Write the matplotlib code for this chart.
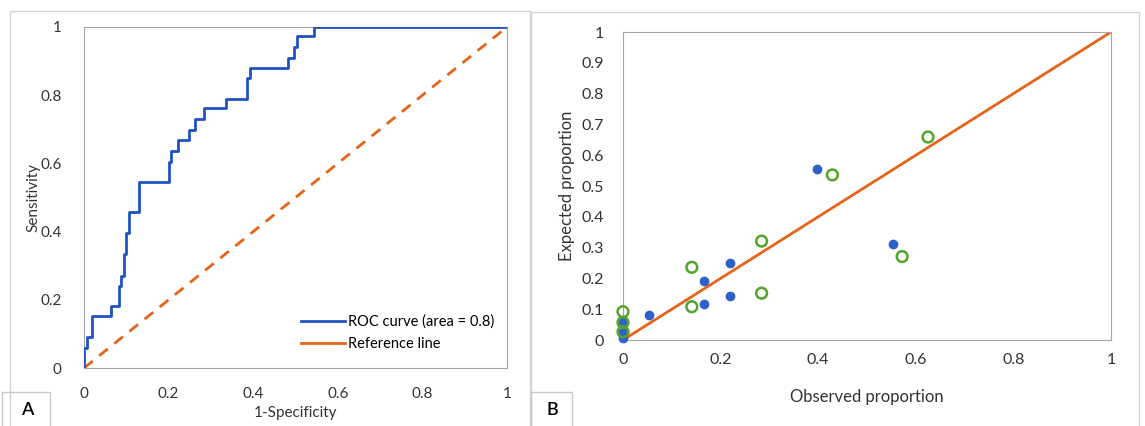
import matplotlib.pyplot as plt
import numpy as np
from matplotlib.lines import Line2D
from matplotlib.patches import Rectangle

plt.rcParams['font.family'] = ['Lato', 'DejaVu Sans']

# ROC curve: x where each step happens, and the sensitivity reached after it
roc_jump_x = [0, 0.007, 0.02, 0.063, 0.083, 0.087, 0.095, 0.1, 0.107, 0.131,
              0.202, 0.206, 0.223, 0.249, 0.262, 0.284, 0.336, 0.385, 0.392,
              0.483, 0.497, 0.503, 0.544]
roc_level = [0.06, 0.09, 0.153, 0.183, 0.24, 0.27, 0.333, 0.395, 0.458, 0.546,
             0.605, 0.636, 0.668, 0.698, 0.729, 0.761, 0.789, 0.85, 0.88,
             0.91, 0.94, 0.974, 1.0]

# calibration points
obs_blue = [0.397, 0.554, 0.219, 0.167, 0.167, 0.219, 0.053, 0, 0, 0]
exp_blue = [0.555, 0.311, 0.251, 0.192, 0.117, 0.143, 0.082, 0.057, 0.025, 0.008]
obs_green = [0.429, 0.625, 0.572, 0.284, 0.284, 0.141, 0.141, 0, 0, 0]
exp_green = [0.536, 0.659, 0.271, 0.321, 0.152, 0.236, 0.108, 0.092, 0.057, 0.027]

blue = '#2152C4'
orange = '#E8631A'
green = '#52A52A'
dot_blue = '#2E62C9'
frame = '#A6A6A6'
W, H = 1145, 426

fig = plt.figure(figsize=(W / 100, H / 100), dpi=100)


def px_rect(x0, y0, x1, y1, **kw):
    # rectangle in pixel coords (y from top)
    r = Rectangle((x0 / W, 1 - y1 / H), (x1 - x0) / W, (y1 - y0) / H,
                  transform=fig.transFigure, fill=False, **kw)
    fig.add_artist(r)


# panel outlines and letter boxes
px_rect(10, 11, 530, 430, edgecolor='#D4D4D4', lw=1)
px_rect(531, 12, 1139, 430, edgecolor='#D4D4D4', lw=1)
px_rect(2, 392, 50, 430, edgecolor='#C8C8C8', lw=1, facecolor='white')
px_rect(531, 392, 572, 430, edgecolor='#C8C8C8', lw=1, facecolor='white')
fig.text(27 / W, 1 - 410 / H, 'A', fontsize=13, ha='center', va='center', fontweight='semibold')
fig.text(552 / W, 1 - 410 / H, 'B', fontsize=13, ha='center', va='center', fontweight='semibold')

# ---- panel A ----
axA = fig.add_axes([84 / W, 1 - 368 / H, 423 / W, 341 / H])
xs = np.concatenate([np.repeat(roc_jump_x, 2), [1]])
ys = np.concatenate([[0], np.repeat(roc_level, 2)])
axA.plot(xs, ys, color=blue, lw=2, zorder=3)
axA.plot([0, 1], [0, 1], color=orange, lw=2, ls=(0, (4, 3)))
axA.set_xlim(0, 1)
axA.set_ylim(0, 1)
axA.set_xticks(np.arange(0, 1.01, 0.2))
axA.set_yticks(np.arange(0, 1.01, 0.2))
axA.set_xticklabels(['0', '0.2', '0.4', '0.6', '0.8', '1'])
axA.set_yticklabels(['0', '0.2', '0.4', '0.6', '0.8', '1'])
axA.tick_params(length=0, labelsize=11, pad=14, colors='#333333')
axA.tick_params(axis='y', pad=16)
axA.set_xlabel('1-Specificity', fontsize=11, color='#333333')
axA.set_ylabel('Sensitivity', fontsize=11, color='#333333')
axA.xaxis.set_label_coords(0.5, -0.111)
axA.yaxis.set_label_coords(-0.104, 0.5)
for s in axA.spines.values():
    s.set_color(frame)
handles = [Line2D([], [], color=blue, lw=2), Line2D([], [], color=orange, lw=2)]
axA.legend(handles, ['ROC curve (area = 0.8)', 'Reference line'],
           loc='lower right', bbox_to_anchor=(1.0, 0.012), frameon=False,
           fontsize=10.5, handlelength=3.0, handletextpad=0.2, labelspacing=0.55)

# ---- panel B ----
axB = fig.add_axes([623 / W, 1 - 340 / H, 488 / W, 308 / H])
axB.plot([0, 1], [0, 1], color=orange, lw=2, zorder=2)
axB.scatter(obs_blue, exp_blue, s=36, color=dot_blue, zorder=3, clip_on=False)
axB.scatter(obs_green, exp_green, s=60, facecolors='none', edgecolors=green,
            linewidths=1.8, zorder=4, clip_on=False)
axB.set_xlim(0, 1)
axB.set_ylim(0, 1)
axB.set_xticks(np.arange(0, 1.01, 0.2))
axB.set_xticklabels(['0', '0.2', '0.4', '0.6', '0.8', '1'])
axB.set_yticks(np.arange(0, 1.01, 0.1))
axB.set_yticklabels(['0'] + ['%.1f' % v for v in np.arange(0.1, 0.95, 0.1)] + ['1'])
axB.tick_params(length=0, labelsize=11.5, colors='#333333')
axB.tick_params(axis='x', pad=9)
axB.tick_params(axis='y', pad=14)
axB.set_xlabel('Observed proportion', fontsize=12, color='#333333')
axB.set_ylabel('Expected proportion', fontsize=12, color='#333333')
axB.xaxis.set_label_coords(0.5, -0.159)
axB.yaxis.set_label_coords(-0.099, 0.5)
for s in axB.spines.values():
    s.set_color(frame)

fig.savefig('out.png', dpi=100)
